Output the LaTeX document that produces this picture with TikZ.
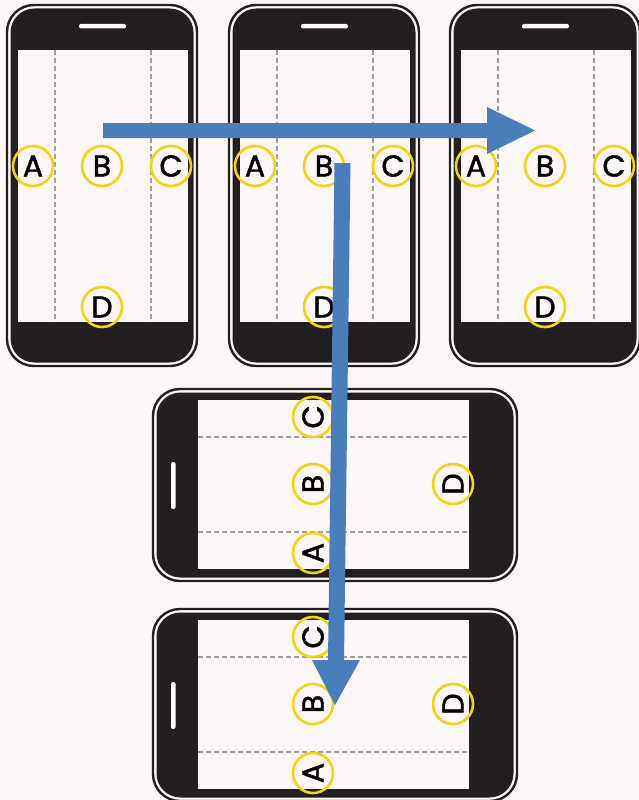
\documentclass[tikz,border=0pt]{standalone}
\usepackage{fontspec}
\setmainfont{Poppins}
\newfontfamily\ringfont[FakeBold=1.5]{Poppins}
\definecolor{bgc}{HTML}{FDF8F7}
\definecolor{bodyc}{HTML}{231F20}
\definecolor{ringc}{HTML}{F7D117}
\definecolor{arrowc}{HTML}{4A7EBA}
\definecolor{dashc}{HTML}{A0A0A0}
\tikzset{
  outerline/.style={draw=bodyc,line width=2.4pt,rounded corners=27pt},
  phonebody/.style={fill=bodyc,rounded corners=24pt},
  screen/.style={fill=bgc},
  speaker/.style={fill=white,rounded corners=2pt},
  guide/.style={draw=dashc,line width=1.8pt,dash pattern=on 5pt off 3pt},
  ring/.style={circle,draw=ringc,line width=2.6pt,minimum size=40pt,inner sep=0pt,
    font=\ringfont\fontsize{30}{30}\selectfont,text=black},
  blockarrow/.style={fill=arrowc}
}
\begin{document}
\begin{tikzpicture}[x=1pt,y=-1pt]
\useasboundingbox (0,0) rectangle (639,800);
\fill[bgc] (0,0) rectangle (639,800);
% portrait phones
\foreach \dx/\p in {0/p1,222/p2,443/p3}{
\begin{scope}[shift={(\dx,0)}]
  \draw[outerline] (7,5) rectangle (197,366);
  \fill[phonebody] (10.5,8.5) rectangle (193.5,362.5);
  \fill[screen] (18,50) rectangle (188,322);
  \fill[speaker] (79,24) rectangle (126,28.5);
  \draw[guide] (55,50) -- (55,322);
  \draw[guide] (151,50) -- (151,322);
  \node[ring] (\p A) at (33,166) {A};
  \node[ring] (\p B) at (102,166) {B};
  \node[ring] (\p C) at (171,166) {C};
  \node[ring] (\p D) at (102,307) {D};
\end{scope}
}
% landscape phones
\foreach \dy/\p in {0/l1,220/l2}{
\begin{scope}[shift={(0,\dy)}]
  \draw[outerline] (153,389) rectangle (517,581);
  \fill[phonebody] (156.5,392.5) rectangle (513.5,577.5);
  \fill[screen] (198,400) rectangle (469,569);
  \fill[speaker] (171,462) rectangle (175.5,509);
  \draw[guide] (198,437) -- (469,437);
  \draw[guide] (198,532) -- (469,532);
  \node[ring,rotate=90] (\p C) at (313,417) {C};
  \node[ring,rotate=90] (\p B) at (313,484) {B};
  \node[ring,rotate=90] (\p A) at (313,553) {A};
  \node[ring,rotate=90] (\p D) at (453,484) {D};
\end{scope}
}
% horizontal block arrow
\coordinate (hs) at (103,130.5);
\coordinate (ht) at (535,130.5);
\fill[blockarrow] (103,123) -- (487,123) -- (487,107) -- (ht) -- (487,154) -- (487,138) -- (103,138) -- cycle;
% vertical block arrow
\coordinate (vs) at (342.5,163);
\coordinate (vt) at (335,705);
\fill[blockarrow] (334.5,163) -- (350.5,163) -- (344,660) -- (360,660) -- (vt) -- (312,660) -- (328,660) -- cycle;
\end{tikzpicture}
\end{document}
